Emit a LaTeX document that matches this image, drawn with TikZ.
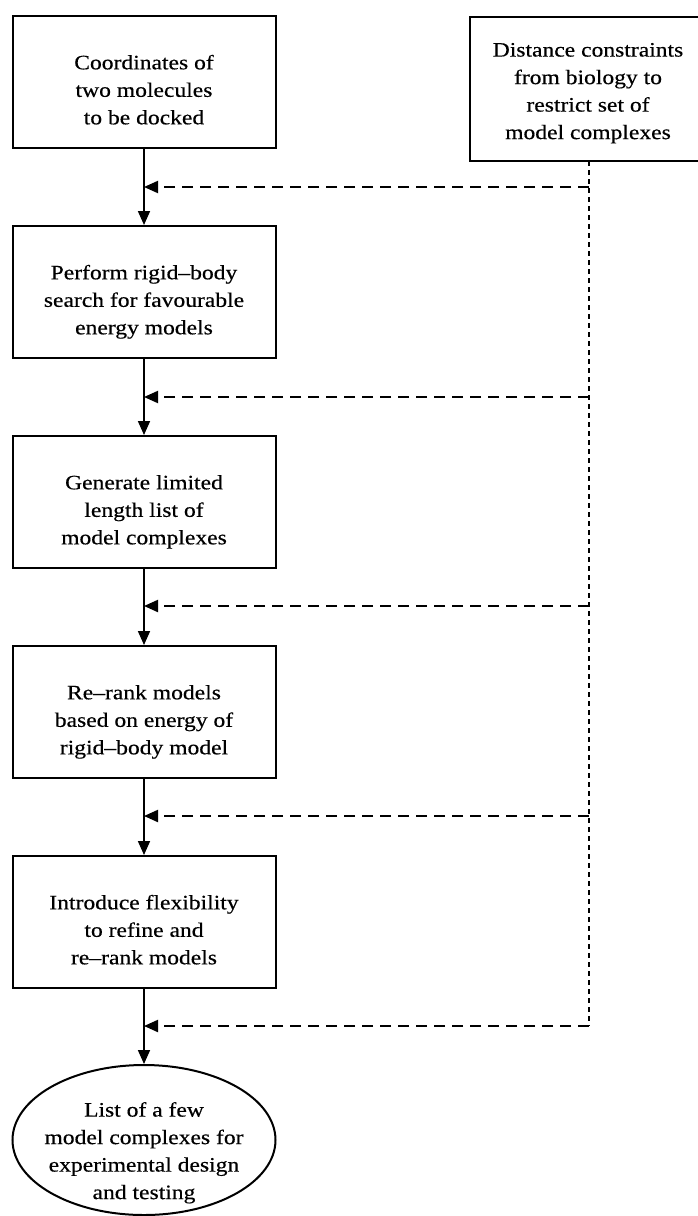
\documentclass[tikz,border=0pt]{standalone}
\usepackage{fontspec}
\setmainfont[FakeStretch=1.15,FakeBold=0.4]{Liberation Serif}
\usetikzlibrary{arrows.meta,shapes.geometric}
\newcommand\lowtext[2]{\raisebox{#1}[0pt][0pt]{\makebox[0pt]{\begin{tabular}{@{}c@{}}#2\end{tabular}}}}
\begin{document}
\begin{tikzpicture}[x=1pt,y=-1pt,
  stepbox/.style={draw, line width=2pt, rectangle, minimum width=263pt, minimum height=132pt, inner sep=0pt, font=\fontsize{20.5}{27.5}\selectfont},
  endell/.style={draw, line width=2pt, ellipse, minimum width=263pt, minimum height=150pt, inner sep=0pt, font=\fontsize{20.5}{27.5}\selectfont},
  flow/.style={line width=1.7pt, -{Triangle[length=14pt,width=12pt]}},
  feedh/.style={line width=2pt, dash pattern=on 11pt off 7pt, -{Triangle[length=14pt,width=12pt]}},
  feedv/.style={line width=2pt, dash pattern=on 5pt off 4pt}]
\useasboundingbox (0,0) rectangle (697,1216);
\node[stepbox] (b1) at (144,82) {\lowtext{-14.5pt}{Coordinates of\\two molecules\\to be docked}};
\node[stepbox] (b2) at (144,292) {\lowtext{-14.5pt}{Perform rigid--body\\search for favourable\\energy models}};
\node[stepbox] (b3) at (144,502) {\lowtext{-14.5pt}{Generate limited\\length list of\\model complexes}};
\node[stepbox] (b4) at (144,712) {\lowtext{-14.5pt}{Re--rank models\\based on energy of\\rigid--body model}};
\node[stepbox] (b5) at (144,922) {\lowtext{-14.5pt}{Introduce flexibility\\to refine and\\re--rank models}};
\node[endell] (e) at (144,1140) {\lowtext{-17.5pt}{List of a few\\model complexes for\\experimental design\\and testing}};
\node[stepbox, minimum width=232pt, minimum height=144pt] (rb) at (586,89) {\hspace{4pt}\lowtext{-8.5pt}{Distance constraints\\from biology to\\restrict set of\\model complexes}};
\draw[flow] (b1) -- (b2);
\draw[flow] (b2) -- (b3);
\draw[flow] (b3) -- (b4);
\draw[flow] (b4) -- (b5);
\draw[flow] (b5) -- (e);
\coordinate (top) at (589,161);
\coordinate (d1) at (589,187);
\coordinate (d2) at (589,397);
\coordinate (d3) at (589,606);
\coordinate (d4) at (589,816);
\coordinate (d5) at (589,1026);
\coordinate (m1) at (144,187);
\coordinate (m2) at (144,397);
\coordinate (m3) at (144,606);
\coordinate (m4) at (144,816);
\coordinate (m5) at (144,1026);
\draw[feedv] (top) -- (d5);
\draw[feedh] (d1) -- (m1);
\draw[feedh] (d2) -- (m2);
\draw[feedh] (d3) -- (m3);
\draw[feedh] (d4) -- (m4);
\draw[feedh] (d5) -- (m5);
\end{tikzpicture}
\end{document}
